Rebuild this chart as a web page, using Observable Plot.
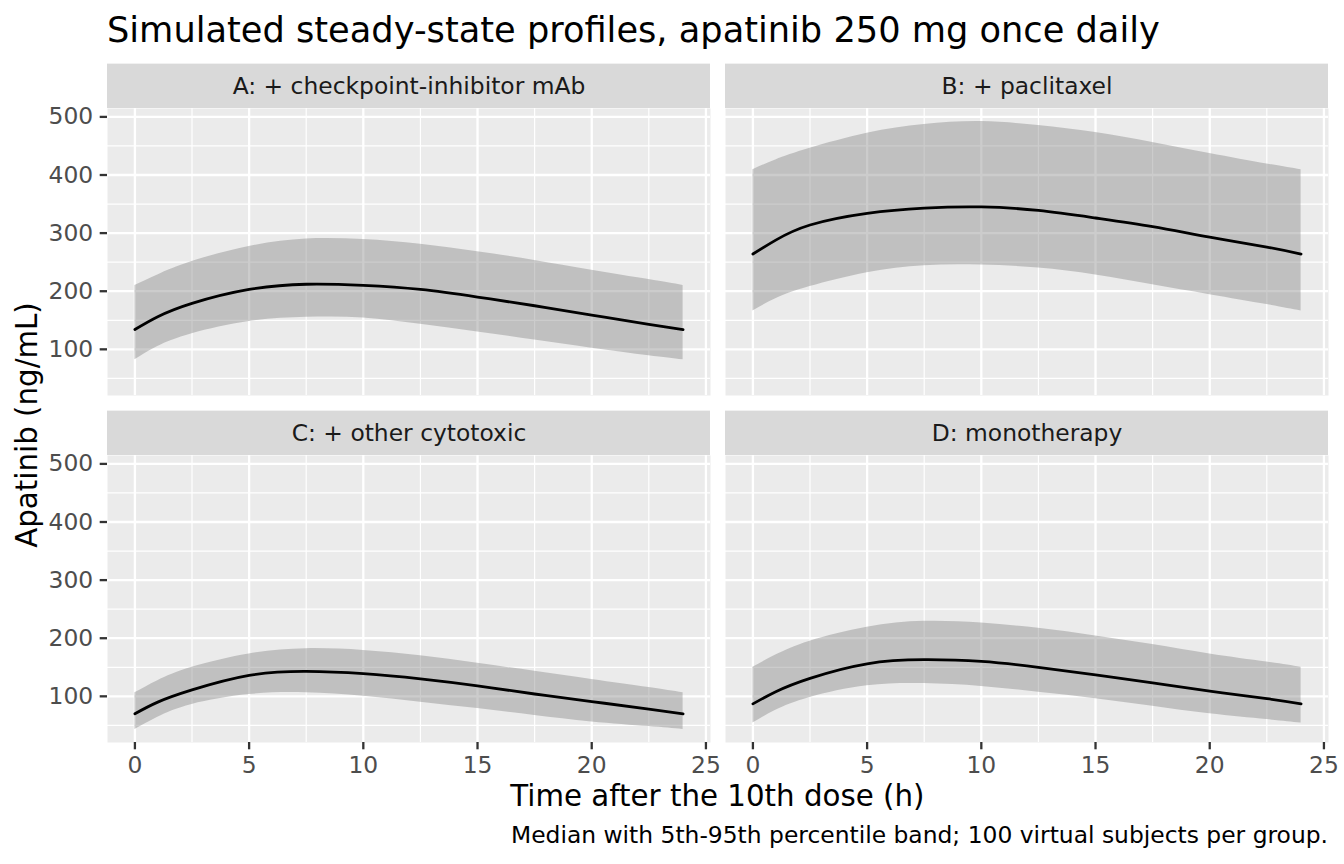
<!DOCTYPE html>
<html>
<head>
<meta charset="utf-8">
<script src="https://cdn.jsdelivr.net/npm/d3@7"></script>
<script src="https://cdn.jsdelivr.net/npm/@observablehq/plot@0.6"></script>
<style>
  html, body { margin: 0; padding: 0; background: #ffffff; }
  #wrap { position: relative; width: 1344px; height: 864px; overflow: hidden; font-family: "DejaVu Sans", sans-serif; }
  #chart { position: absolute; left: 0; top: 0; }
  .txt { position: absolute; white-space: nowrap; line-height: 1; font-family: "DejaVu Sans", sans-serif; }
</style>
</head>
<body>
<div id="wrap">
  <div id="chart"></div>
  <div class="txt" id="title" style="left:107px; top:11.9px; font-size:35.2px; color:#000;">Simulated steady-state profiles, apatinib 250 mg once daily</div>
  <div class="txt" id="ytitle" style="left:28.4px; top:424.6px; font-size:29.3px; color:#000; transform: translate(-50%,-50%) rotate(-90deg);">Apatinib (ng/mL)</div>
  <div class="txt" id="xtitle" style="left:717.4px; top:781.9px; font-size:29.3px; color:#000; transform: translateX(-50%);">Time after the 10th dose (h)</div>
  <div class="txt" id="caption" style="right:16px; top:824.2px; font-size:23.4px; color:#000;">Median with 5th-95th percentile band; 100 virtual subjects per group.</div>
</div>
<script>
// ---- data ----
const times = [0, 1, 2.5, 5, 7.5, 10, 12.5, 15, 17.5, 20, 22.5, 24];
const panelLabels = ["A: + checkpoint-inhibitor mAb", "B: + paclitaxel", "C: + other cytotoxic", "D: monotherapy"];

const medA = [134, 156, 179, 203, 212, 210, 203, 190, 175, 159, 143, 134];
const p95A = [210, 228, 251, 277, 290, 289, 281, 268, 253, 236, 220, 210];
const p5A  = [82, 105, 127, 148, 155, 154, 143, 130, 116, 102, 89, 82];

const medB = [264, 288, 314, 334, 343, 345, 339, 326, 311, 293, 276, 264];
const p95B = [409, 426, 446, 472, 487, 492, 485, 473, 456, 437, 419, 409];
const p5B  = [166, 187, 208, 232, 244, 245, 240, 228, 211, 194, 177, 166];

const medC = [70, 90, 111, 136, 143, 139, 130, 118, 104, 91, 78, 70];
const p95C = [106, 127, 150, 173, 182, 179, 170, 157, 143, 129, 115, 106];
const p5C  = [43, 64, 86, 103, 106, 100, 90, 79, 67, 56, 48, 43];

const medD = [87, 108, 131, 156, 163, 160, 150, 137, 123, 109, 96, 87];
const p95D = [150, 171, 195, 219, 229, 226, 217, 204, 189, 173, 159, 150];
const p5D  = [54, 76, 98, 118, 122, 117, 107, 96, 83, 70, 60, 54];

const xMajor = [0, 5, 10, 15, 20, 25];
const xMinor = [2.5, 7.5, 12.5, 17.5, 22.5];
const yMajor = [100, 200, 300, 400, 500];
const yMinor = [50, 150, 250, 350, 450];

// ---- table built from the arrays ----
const groups = [
  {label: panelLabels[0], col: 0, row: 0, med: medA, lo: p5A, hi: p95A},
  {label: panelLabels[1], col: 1, row: 0, med: medB, lo: p5B, hi: p95B},
  {label: panelLabels[2], col: 0, row: 1, med: medC, lo: p5C, hi: p95C},
  {label: panelLabels[3], col: 1, row: 1, med: medD, lo: p5D, hi: p95D}
];
const rows = groups.flatMap(g => times.map((t, i) => ({t, med: g.med[i], lo: g.lo[i], hi: g.hi[i], col: g.col, row: g.row})));
const strips = groups.map(g => ({label: g.label, col: g.col, row: g.row}));

// ---- layout ----
const W = 1344, H = 864;
const mL = 106.7, mR = 16, mT = 106.7, mB = 121.5;
const hGap = 15, vGap = 60, stripH = 44.5;

const tMin = d3.min(times), tMax = d3.max(times);
const xDom = [tMin - 0.05 * (tMax - tMin), tMax + 0.05 * (tMax - tMin)];
const yLo = d3.min(rows, d => d.lo), yHi = d3.max(rows, d => d.hi);
const yDom = [yLo - 0.05 * (yHi - yLo), yHi + 0.05 * (yHi - yLo)];

const panelW = ((W - mL - mR) - hGap) / 2;
const panelH = ((H - mT - mB) - vGap) / 2;
const padX = hGap / (panelW + hGap);
const padY = vGap / (panelH + vGap);
const unitsPerPx = (yDom[1] - yDom[0]) / panelH;
const stripTop = yDom[1] + stripH * unitsPerPx;

const fs = 23.4;

const chart = Plot.plot({
  width: W,
  height: H,
  marginLeft: mL,
  marginRight: mR,
  marginTop: mT,
  marginBottom: mB,
  x: {domain: xDom},
  y: {domain: yDom},
  fx: {domain: [0, 1], paddingInner: padX, paddingOuter: 0, axis: null, label: null},
  fy: {domain: [0, 1], paddingInner: padY, paddingOuter: 0, axis: null, label: null},
  style: {fontFamily: "DejaVu Sans, sans-serif", fontSize: fs + "px", background: "transparent", color: "#000"},
  marks: [
    Plot.frame({fill: "#ebebeb", stroke: "none"}),
    Plot.gridX(xMinor, {stroke: "#ffffff", strokeOpacity: 1, strokeWidth: 1.2}),
    Plot.gridY(yMinor, {stroke: "#ffffff", strokeOpacity: 1, strokeWidth: 1.2}),
    Plot.gridX(xMajor, {stroke: "#ffffff", strokeOpacity: 1, strokeWidth: 2.3}),
    Plot.gridY(yMajor, {stroke: "#ffffff", strokeOpacity: 1, strokeWidth: 2.3}),
    Plot.rect(strips, {fx: "col", fy: "row", y1: () => yDom[1], y2: () => stripTop, fill: "#d9d9d9"}),
    Plot.text(strips, {fx: "col", fy: "row", text: "label", frameAnchor: "top", lineAnchor: "middle", dy: -22, fontSize: fs, fill: "#1a1a1a"}),
    Plot.areaY(rows, {fx: "col", fy: "row", x: "t", y1: "lo", y2: "hi", fill: "#7f7f7f", fillOpacity: 0.4, curve: "natural"}),
    Plot.line(rows, {fx: "col", fy: "row", x: "t", y: "med", stroke: "#000000", strokeWidth: 2.8, curve: "natural"}),
    Plot.axisX(xMajor, {tickSize: 7.3, tickPadding: 6.6, stroke: "#333333", strokeWidth: 2.3, fill: "#4d4d4d", fontSize: fs, label: null}),
    Plot.axisY(yMajor, {tickSize: 7.3, tickPadding: 7, stroke: "#333333", strokeWidth: 2.3, fill: "#4d4d4d", fontSize: fs, label: null})
  ]
});
document.getElementById("chart").appendChild(chart);
</script>
</body>
</html>
